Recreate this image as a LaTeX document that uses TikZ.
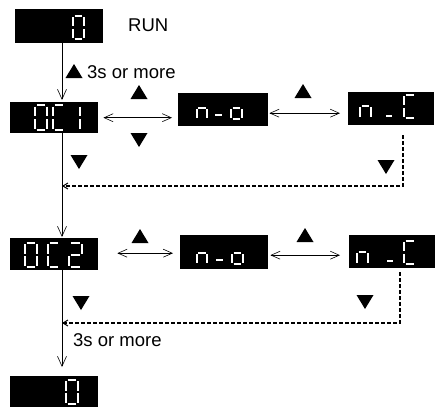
\documentclass[tikz,border=0pt]{standalone}
\usepackage{fontspec}
\setmainfont{Liberation Sans}
\usetikzlibrary{arrows.meta}

% seven-segment geometry in a unit cell (width 1, height 2, y pointing down)
\def\segpatha{(0.14,0) -- (0.86,0)}
\def\segpathb{(1,0.12) -- (1,0.88)}
\def\segpathc{(1,1.12) -- (1,1.88)}
\def\segpathd{(0.14,2) -- (0.86,2)}
\def\segpathe{(0,1.12) -- (0,1.88)}
\def\segpathf{(0,0.12) -- (0,0.88)}
\def\segpathg{(0.14,1) -- (0.86,1)}

% #1,#2 top-left corner, #3 width, #4 height, #5 list of lit segments
\newcommand\sevenseg[5]{%
  \begin{scope}[shift={(#1,#2)}, xscale=#3, yscale=#4/2]
    \foreach \s in {#5}{%
      \expandafter\let\expandafter\segp\csname segpath\s\endcsname
      \draw[seg] \segp;}
  \end{scope}}

\begin{document}
\begin{tikzpicture}[x=1pt, y=-1pt,
  disp/.style={rectangle, fill=black, inner sep=0pt, anchor=north west},
  seg/.style={draw=white, line width=2.5pt, line cap=butt},
  lbl/.style={inner sep=0pt, anchor=west, font=\fontsize{18.5}{21}\selectfont},
  flow/.style={draw, line width=0.6pt, -{Straight Barb[length=10pt,width=9pt]}},
  dflow/.style={draw, line width=0.6pt,
    {Straight Barb[length=9pt,width=8pt]}-{Straight Barb[length=9pt,width=8pt]}},
  back/.style={draw, line width=1.6pt, dash pattern=on 4pt off 2pt,
    -{Straight Barb[length=5pt,width=6pt,line width=1pt]}},
  upmark/.pic={\fill (-8.5,7) -- (8.5,7) -- (0,-7) -- cycle;},
  downmark/.pic={\fill (-8.5,-7) -- (8.5,-7) -- (0,7) -- cycle;}]
\useasboundingbox (0,0) rectangle (435,407);

% displays
\node[disp, minimum width=88pt, minimum height=34pt] (top0) at (15,9) {};
\node[disp, minimum width=88pt, minimum height=31pt] (oc1) at (10,102) {};
\node[disp, minimum width=90pt, minimum height=33pt] (no1) at (178,93) {};
\node[disp, minimum width=86pt, minimum height=33pt] (nc1) at (348,92) {};
\node[disp, minimum width=88pt, minimum height=32pt] (oc2) at (10,238) {};
\node[disp, minimum width=88pt, minimum height=34pt] (no2) at (180,235) {};
\node[disp, minimum width=86pt, minimum height=33pt] (nc2) at (349,235) {};
\node[disp, minimum width=88pt, minimum height=31pt] (bot0) at (10,376) {};

% digits
\sevenseg{73}{16}{11}{23}{a,b,c,d,e,f}
\sevenseg{35}{105}{12}{25}{a,b,c,d,e,f}
\sevenseg{53}{105}{12}{25}{a,d,e,f}
\sevenseg{68}{105}{12}{25}{b,c}
\sevenseg{197}{97}{10}{22}{g,e,c}
\draw[seg] (215,115) -- (222,115);
\sevenseg{231}{97}{11}{22}{g,c,d,e}
\sevenseg{360}{94}{11}{24}{g,e,c}
\draw[seg] (386,116) -- (392,116);
\sevenseg{404}{95}{12}{23}{a,d,e,f}
\sevenseg{25}{243}{12}{24}{a,b,c,d,e,f}
\sevenseg{48}{243}{12}{24}{a,d,e,f}
\sevenseg{69}{243}{13}{24}{a,b,g,e,d}
\sevenseg{197}{242}{10}{22}{g,e,c}
\draw[seg] (216,260) -- (223,260);
\sevenseg{232}{242}{11}{22}{g,c,d,e}
\sevenseg{357}{240}{11}{24}{g,e,c}
\draw[seg] (387,261) -- (393,261);
\sevenseg{404}{241}{12}{23}{a,d,e,f}
\sevenseg{66}{380}{12}{24}{a,b,c,d,e,f}

% labels
\node[lbl] (run) at (128,25) {RUN};
\node[lbl] (hold1) at (87,72) {3s or more};
\node[lbl] (hold2) at (73,340) {3s or more};

% key marks
\pic at (74,71) {upmark};
\pic at (139,92) {upmark};
\pic at (139,140) {downmark};
\pic at (303,91) {upmark};
\pic at (79,162) {downmark};
\pic at (386,167) {downmark};
\pic at (140,236) {upmark};
\pic at (305,235) {upmark};
\pic at (81,303) {downmark};
\pic at (365,302) {downmark};

% main column
\coordinate (vx) at (62,0);
\draw[flow, shorten >=2pt] (top0.south -| vx) -- (oc1.north -| vx);
\draw[flow, shorten >=1pt] (oc1.south -| vx) -- (oc2.north -| vx);
\draw[flow, shorten >=9pt] (oc2.south -| vx) -- (bot0.north -| vx);

% moves between settings
\draw[dflow, shorten <=5pt, shorten >=6pt] (oc1.east) -- (oc1.east -| no1.west);
\draw[dflow, shorten <=1pt, shorten >=8pt] ([yshift=-3.5pt]no1.east) -- ([yshift=-3.5pt]no1.east -| nc1.west);
\draw[dflow, shorten <=19pt, shorten >=7pt] ([yshift=1pt]oc2.east) -- ([yshift=1pt]oc2.east -| no2.west);
\draw[dflow, shorten <=2pt, shorten >=9pt] ([yshift=-3pt]no2.east) -- ([yshift=-3pt]no2.east -| nc2.west);

% returns
\coordinate (c1) at (403,186);
\draw[back, shorten <=10pt] (nc1.south -| c1) -- (c1) -- (c1 -| vx);
\coordinate (c2) at (400,323);
\draw[back, shorten <=4pt] (nc2.south -| c2) -- (c2) -- (c2 -| vx);
\end{tikzpicture}
\end{document}
